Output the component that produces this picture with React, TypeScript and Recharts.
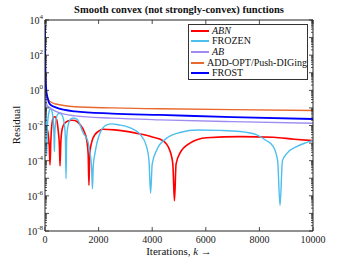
import { LineChart, Line, XAxis, YAxis } from 'recharts';

// iteration counts (k) and log10(residual)
const abnK = [0, 15, 35, 70, 120, 160, 187, 215, 260, 320, 373, 440, 500, 540, 560, 590, 640, 720, 850, 1000, 1120, 1306, 1450, 1555, 1610, 1640, 1670, 1760, 1850, 1990, 2160, 2600, 3100, 3540, 4000, 4400, 4650, 4770, 4830, 4890, 5040, 5410, 6030, 7280, 8520, 9300, 10000];
const abnE = [3.7, 0.5, -1.6, -2.1, -2.5, -3.2, -4.24, -3.0, -1.9, -1.55, -1.5, -1.7, -2.4, -3.2, -4.3, -3.0, -2.2, -1.9, -1.75, -1.7, -1.72, -1.95, -2.3, -2.82, -3.6, -5.4, -3.6, -2.85, -2.55, -2.34, -2.21, -2.25, -2.35, -2.48, -2.65, -2.86, -3.39, -4.2, -6.28, -4.2, -3.56, -3.0, -2.7, -2.63, -2.67, -2.78, -2.86];

const frozenK = [0, 15, 35, 52, 65, 80, 140, 200, 260, 310, 335, 350, 365, 400, 480, 560, 650, 720, 760, 785, 810, 860, 950, 1050, 1200, 1430, 1600, 1680, 1740, 1770, 1800, 1866, 2050, 2300, 2490, 2800, 3050, 3300, 3540, 3790, 3880, 3940, 4000, 4170, 4540, 5040, 5700, 6500, 7280, 7900, 8250, 8520, 8680, 8770, 8860, 9020, 9390, 9700, 10000];
const frozenE = [3.7, 0.8, -0.9, -2.0, -3.67, -2.3, -1.3, -1.05, -1.2, -1.8, -2.5, -3.48, -2.5, -1.8, -1.35, -1.3, -1.45, -1.9, -2.7, -5.03, -2.7, -2.0, -1.65, -1.57, -1.65, -2.44, -2.9, -3.57, -4.4, -5.6, -4.3, -3.57, -2.44, -1.97, -1.91, -1.98, -2.06, -2.22, -2.48, -3.2, -4.0, -5.85, -4.2, -3.39, -2.72, -2.4, -2.26, -2.28, -2.34, -2.53, -2.85, -3.2, -4.0, -6.55, -4.0, -3.6, -3.2, -3.0, -2.86];

const smoothK = [0, 8, 20, 45, 100, 187, 400, 1120, 2500, 4290, 7000, 10000];
const abE = [3.7, 1.0, -0.3, -0.7, -0.9, -1.0, -1.2, -1.45, -1.58, -1.68, -1.78, -1.87];
const addOptE = [3.7, 1.5, 0.3, -0.2, -0.45, -0.64, -0.78, -0.93, -1.0, -1.05, -1.1, -1.15];
const frostE = [3.7, 2.0, 0.8, 0.05, -0.45, -0.8, -0.97, -1.2, -1.32, -1.4, -1.52, -1.63];

const xTicks = [0, 2000, 4000, 6000, 8000, 10000];
const yTicks: number[] = [];
for (let e = -8; e < 4; e++) {
  for (let m = 1; m < 10; m++) yTicks.push(m * Math.pow(10, e));
}
yTicks.push(1e4);

const toData = (ks: number[], es: number[]) => ks.map((k, i) => ({ k, v: Math.pow(10, es[i]) }));

const series = [
  { name: 'ABN', italic: true, color: '#ff0000', width: 1.6, data: toData(abnK, abnE) },
  { name: 'FROZEN', italic: false, color: '#4dbeee', width: 1.4, data: toData(frozenK, frozenE) },
  { name: 'AB', italic: true, color: '#a08cf0', width: 1.4, data: toData(smoothK, abE) },
  { name: 'ADD-OPT/Push-DIGing', italic: false, color: '#e8692e', width: 1.4, data: toData(smoothK, addOptE) },
  { name: 'FROST', italic: false, color: '#0000ff', width: 1.8, data: toData(smoothK, frostE) },
];

const FONT = '"Liberation Serif", "Times New Roman", serif';
const AX = '#222';

const tickInfo = (v: number) => {
  const lg = Math.log10(v);
  const e = Math.round(lg);
  const decade = Math.abs(lg - e) < 1e-9;
  return { e, decade, labeled: decade && e % 2 === 0 };
};

const LeftTick = (props: any) => {
  const { x, y, payload } = props;
  const { e, decade, labeled } = tickInfo(payload.value);
  return (
    <g>
      <line x1={x} x2={x + (decade ? 4 : 2)} y1={y} y2={y} stroke={AX} strokeWidth={0.8} />
      {labeled && (
        <text x={x - 2} y={y + 4} textAnchor="end" fontFamily={FONT} fontSize={10} fill="#222">
          10<tspan dy={-5} fontSize={7}>{e}</tspan>
        </text>
      )}
    </g>
  );
};

const RightTick = (props: any) => {
  const { x, y, payload } = props;
  const { decade } = tickInfo(payload.value);
  return <line x1={x} x2={x - (decade ? 4 : 2)} y1={y} y2={y} stroke={AX} strokeWidth={0.8} />;
};

const BottomTick = (props: any) => {
  const { x, y, payload } = props;
  return (
    <g>
      <line x1={x} x2={x} y1={y} y2={y - 4} stroke={AX} strokeWidth={0.8} />
      <text x={x} y={y + 12} textAnchor="middle" fontFamily={FONT} fontSize={10} fill="#222">
        {payload.value}
      </text>
    </g>
  );
};

const TopTick = (props: any) => {
  const { x, y } = props;
  return <line x1={x} x2={x} y1={y} y2={y + 4} stroke={AX} strokeWidth={0.8} />;
};

const LegendBox = () => (
  <div
    style={{
      position: 'absolute',
      left: 188,
      top: 24,
      width: 120,
      height: 56,
      boxSizing: 'border-box',
      border: '1px solid #333',
      background: '#fff',
      paddingTop: 0.5,
      fontFamily: FONT,
      fontSize: 10,
      color: '#111',
    }}
  >
    {series.map((s) => (
      <div key={s.name} style={{ height: 10.6, display: 'flex', alignItems: 'center', whiteSpace: 'nowrap' }}>
        <span style={{ display: 'inline-block', marginLeft: 2, width: 18, height: 2, background: s.color }} />
        <span style={{ marginLeft: 3, fontStyle: s.italic ? 'italic' : 'normal', lineHeight: '10px' }}>{s.name}</span>
      </div>
    ))}
  </div>
);

export default function App() {
  return (
    <div style={{ position: 'absolute', left: 0, top: 0, width: 346, height: 260, background: '#fff' }}>
      <div
        style={{
          position: 'absolute',
          left: 0,
          width: 358,
          top: 4,
          textAlign: 'center',
          fontFamily: FONT,
          fontWeight: 'bold',
          fontSize: 10.5,
          color: '#111',
        }}
      >
        Smooth convex (not strongly-convex) functions
      </div>
      <div
        style={{
          position: 'absolute',
          left: 16,
          top: 125,
          transform: 'translate(-50%, -50%) rotate(-90deg)',
          fontFamily: FONT,
          fontSize: 11,
          color: '#111',
          whiteSpace: 'nowrap',
        }}
      >
        Residual
      </div>
      <div
        style={{
          position: 'absolute',
          left: 0,
          width: 358,
          top: 245,
          textAlign: 'center',
          fontFamily: FONT,
          fontSize: 11,
          color: '#111',
        }}
      >
        Iterations, <i>k</i> →
      </div>
      <LineChart width={346} height={260} margin={{ top: 0, right: 0, bottom: 0, left: 0 }}>
        <XAxis
          xAxisId="b"
          type="number"
          dataKey="k"
          domain={[0, 10000]}
          allowDataOverflow
          ticks={xTicks}
          interval={0}
          height={29}
          tickSize={0}
          tickMargin={0}
          tickLine={false}
          axisLine={{ stroke: AX }}
          tick={<BottomTick />}
        />
        <XAxis
          xAxisId="t"
          orientation="top"
          type="number"
          dataKey="k"
          domain={[0, 10000]}
          allowDataOverflow
          ticks={xTicks}
          interval={0}
          height={20}
          tickSize={0}
          tickMargin={0}
          tickLine={false}
          axisLine={{ stroke: AX }}
          tick={<TopTick />}
        />
        <YAxis
          yAxisId="l"
          type="number"
          scale="log"
          domain={[1e-8, 1e4]}
          allowDataOverflow
          ticks={yTicks}
          interval={0}
          width={45}
          tickSize={0}
          tickMargin={0}
          tickLine={false}
          axisLine={{ stroke: AX }}
          tick={<LeftTick />}
        />
        <YAxis
          yAxisId="r"
          orientation="right"
          type="number"
          scale="log"
          domain={[1e-8, 1e4]}
          allowDataOverflow
          ticks={yTicks}
          interval={0}
          width={33}
          tickSize={0}
          tickMargin={0}
          tickLine={false}
          axisLine={{ stroke: AX }}
          tick={<RightTick />}
        />
        {series.map((s) => (
          <Line
            key={s.name}
            xAxisId="b"
            yAxisId="l"
            data={s.data}
            dataKey="v"
            name={s.name}
            type="monotone"
            stroke={s.color}
            strokeWidth={s.width}
            dot={false}
            activeDot={false}
            isAnimationActive={false}
          />
        ))}
      </LineChart>
      <LegendBox />
    </div>
  );
}
